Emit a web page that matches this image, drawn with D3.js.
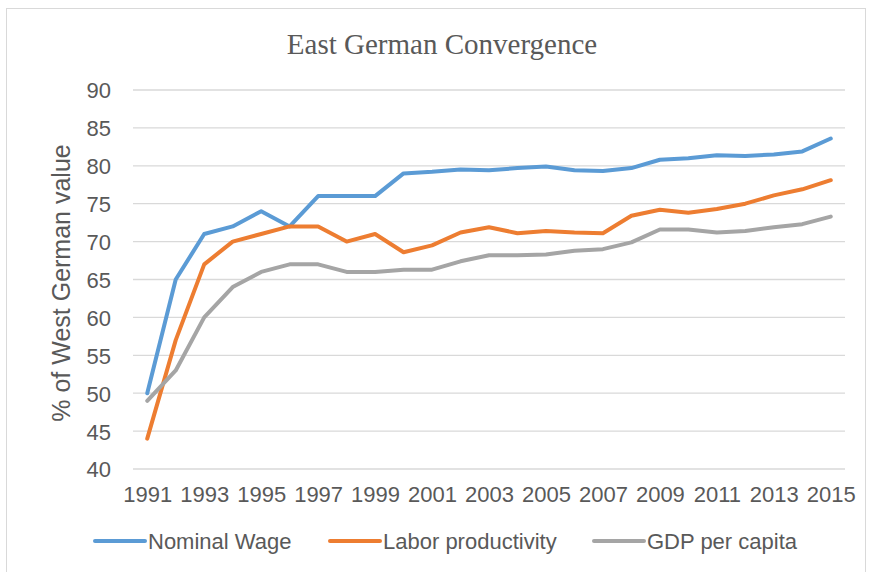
<!DOCTYPE html>
<html>
<head>
<meta charset="utf-8">
<script src="https://cdn.jsdelivr.net/npm/d3@7"></script>
<style>
  body { margin: 0; background: #fff; }
  svg text { fill: #595959; }
</style>
</head>
<body>
<svg id="chart" width="870" height="572"></svg>
<script>
var years = [1991, 1992, 1993, 1994, 1995, 1996, 1997, 1998, 1999, 2000, 2001, 2002, 2003,
             2004, 2005, 2006, 2007, 2008, 2009, 2010, 2011, 2012, 2013, 2014, 2015];
var nominalWage = [50, 65, 71, 72, 74, 72, 76, 76, 76, 79, 79.2, 79.5, 79.4,
                   79.7, 79.9, 79.4, 79.3, 79.7, 80.8, 81, 81.4, 81.3, 81.5, 81.9, 83.6];
var laborProductivity = [44, 57, 67, 70, 71, 72, 72, 70, 71, 68.6, 69.5, 71.2, 71.9,
                         71.1, 71.4, 71.2, 71.1, 73.4, 74.2, 73.8, 74.3, 75, 76.1, 76.9, 78.1];
var gdpPerCapita = [49, 53, 60, 64, 66, 67, 67, 66, 66, 66.3, 66.3, 67.4, 68.2,
                    68.2, 68.3, 68.8, 69, 69.9, 71.6, 71.6, 71.2, 71.4, 71.9, 72.3, 73.3];
var yTicks = [40, 45, 50, 55, 60, 65, 70, 75, 80, 85, 90];
var xTickYears = [1991, 1993, 1995, 1997, 1999, 2001, 2003, 2005, 2007, 2009, 2011, 2013, 2015];

var seriesNames = ["Nominal Wage", "Labor productivity", "GDP per capita"];
var seriesValues = [nominalWage, laborProductivity, gdpPerCapita];
var colors = ["#5b9bd5", "#ed7d31", "#a5a5a5"];

var svg = d3.select("#chart");
var sans = "'Liberation Sans', Arial, sans-serif";

// chart border
svg.append("rect")
    .attr("x", 6.5).attr("y", 8.5)
    .attr("width", 859).attr("height", 570)
    .attr("fill", "none")
    .attr("stroke", "#d9d9d9")
    .attr("stroke-width", 1);

var x = d3.scalePoint().domain(years).range([133, 845]).padding(0.5);
var y = d3.scaleLinear().domain([40, 90]).range([469, 90]);

// gridlines
svg.append("g")
    .selectAll("line")
    .data(yTicks)
    .join("line")
    .attr("x1", 133).attr("x2", 845)
    .attr("y1", function(d) { return y(d); })
    .attr("y2", function(d) { return y(d); })
    .attr("stroke", "#d9d9d9")
    .attr("stroke-width", 1.3);

// y axis labels
var yAxis = d3.axisLeft(y).tickValues(yTicks).tickSize(0).tickPadding(0);
svg.append("g")
    .attr("transform", "translate(111,0)")
    .call(yAxis)
    .call(function(g) { g.select(".domain").remove(); })
    .selectAll("text")
    .attr("font-family", sans)
    .attr("font-size", 22)
    .attr("dy", "0.36em");

// x axis labels
var xAxis = d3.axisBottom(x).tickValues(xTickYears).tickSize(0).tickPadding(0);
svg.append("g")
    .attr("transform", "translate(0,486)")
    .call(xAxis)
    .call(function(g) { g.select(".domain").remove(); })
    .selectAll("text")
    .attr("font-family", sans)
    .attr("font-size", 22)
    .attr("dy", "0.72em");

// lines
var line = d3.line()
    .x(function(d, i) { return x(years[i]); })
    .y(function(d) { return y(d); });

seriesValues.forEach(function(vals, i) {
    svg.append("path")
        .datum(vals)
        .attr("fill", "none")
        .attr("stroke", colors[i])
        .attr("stroke-width", 4)
        .attr("stroke-linejoin", "round")
        .attr("stroke-linecap", "round")
        .attr("d", line);
});

// title
svg.append("text")
    .attr("x", 442).attr("y", 54)
    .attr("text-anchor", "middle")
    .attr("font-family", "'Liberation Serif', 'Times New Roman', serif")
    .attr("font-size", 29)
    .text("East German Convergence");

// y axis title
svg.append("text")
    .attr("transform", "translate(70,283) rotate(-90)")
    .attr("text-anchor", "middle")
    .attr("font-family", sans)
    .attr("font-size", 25)
    .text("% of West German value");

// legend
var legendX = [95, 330, 594];
var legend = svg.append("g");
seriesNames.forEach(function(name, i) {
    var g = legend.append("g").attr("transform", "translate(" + legendX[i] + ",541)");
    g.append("line")
        .attr("x1", 0).attr("x2", 50)
        .attr("stroke", colors[i])
        .attr("stroke-width", 4)
        .attr("stroke-linecap", "round");
    g.append("text")
        .attr("x", 53).attr("y", 8)
        .attr("font-family", sans)
        .attr("font-size", 22)
        .text(name);
});
</script>
</body>
</html>
